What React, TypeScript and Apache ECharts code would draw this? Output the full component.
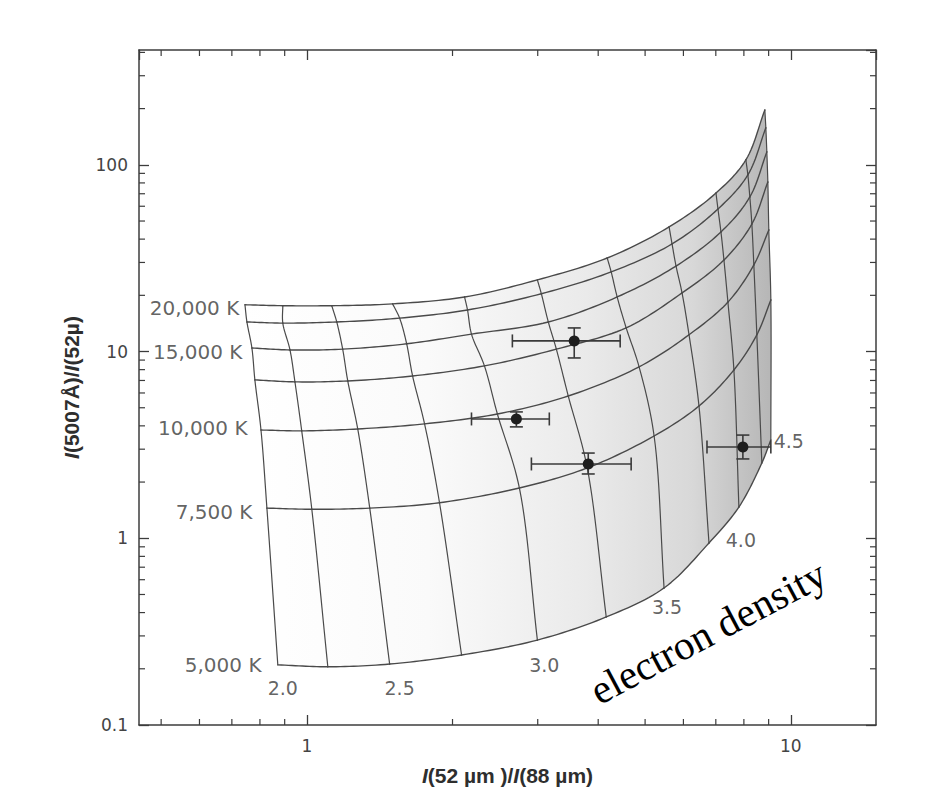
import React, { useEffect, useRef } from 'react';
import * as echarts from 'echarts';

// log10 electron density nodes of the grid
const densityNodes = [2.0, 2.25, 2.5, 2.75, 3.0, 3.25, 3.5, 3.75, 4.0, 4.25, 4.5];
const densityLabels = ['2.0', '2.5', '3.0', '3.5', '4.0', '4.5'];
const densityLabelX = [0.892, 1.555, 3.095, 5.55, 7.886, 9.906];
const densityLabelY = [0.158, 0.158, 0.21, 0.429, 0.98, 3.32];

// temperature curves: x = I(52µm)/I(88µm), y = I(5007Å)/I(52µm) at each density node
const t20000X = [0.745, 0.892, 1.126, 1.504, 2.118, 2.995, 4.175, 5.605, 7.005, 8.076, 8.839];
const t20000Y = [17.8, 17.6, 17.6, 18.0, 19.6, 24.2, 31.7, 46.5, 70.6, 106.3, 196.8];
const t17500X = [0.752, 0.892, 1.153, 1.555, 2.148, 3.052, 4.255, 5.684, 7.072, 8.153, 8.881];
const t17500Y = [14.4, 14.2, 14.4, 15.1, 16.7, 20.4, 26.7, 37.7, 58.0, 88.3, 157.8];
const t15000X = [0.77, 0.923, 1.186, 1.608, 2.189, 3.155, 4.378, 5.793, 7.173, 8.23, 8.923];
const t15000Y = [10.45, 10.2, 10.3, 11.0, 12.4, 14.4, 19.6, 28.7, 43.7, 67.3, 117.3];
const t12500X = [0.781, 0.945, 1.215, 1.654, 2.328, 3.278, 4.569, 5.961, 7.276, 8.309, 8.966];
const t12500Y = [7.05, 6.88, 6.96, 7.4, 8.38, 10.3, 13.4, 20.6, 30.9, 48.2, 80.9];
const t10000X = [0.804, 0.976, 1.274, 1.751, 2.476, 3.469, 4.859, 6.162, 7.415, 8.388, 9.008];
const t10000Y = [3.8, 3.76, 3.85, 4.1, 4.63, 5.78, 8.28, 12.3, 18.4, 29.1, 44.8];
const t7500X = [0.827, 1.024, 1.349, 1.88, 2.749, 3.797, 5.219, 6.461, 7.629, 8.509, 9.095];
const t7500Y = [1.45, 1.43, 1.45, 1.55, 1.86, 2.38, 3.53, 5.11, 7.97, 12.3, 18.9];
const t5000X = [0.871, 1.105, 1.483, 2.088, 2.995, 4.156, 5.472, 6.776, 7.812, 8.713, 9.095];
const t5000Y = [0.21, 0.205, 0.212, 0.237, 0.285, 0.379, 0.542, 0.944, 1.47, 2.53, 3.36];

const temperatureNames = ['20,000 K', '17,500 K', '15,000 K', '12,500 K', '10,000 K', '7,500 K', '5,000 K'];
const tempLabels = ['20,000 K', '15,000 K', '10,000 K', '7,500 K', '5,000 K'];
const tempLabelX = [0.727, 0.738, 0.756, 0.774, 0.808];
const tempLabelY = [17.1, 9.95, 3.9, 1.383, 0.21];

// observed points with error bars
const obsX = [3.569, 2.71, 3.815, 7.962];
const obsY = [11.4, 4.355, 2.5, 3.08];
const obsXLow = [2.659, 2.189, 2.911, 6.712];
const obsXHigh = [4.441, 3.17, 4.679, 9.095];
const obsYLow = [9.24, 3.95, 2.21, 2.66];
const obsYHigh = [13.38, 4.75, 2.86, 3.57];

// axes
const xMin = 0.45;
const xMax = 15;
const yMin = 0.1;
const yMax = 412;
const xMinorTicks = [0.5, 0.6, 0.7, 0.8, 0.9, 2, 3, 4, 5, 6, 7, 8, 9];
const yMinorTicks = [0.2, 0.3, 0.4, 0.5, 0.6, 0.7, 0.8, 0.9, 2, 3, 4, 5, 6, 7, 8, 9, 20, 30, 40, 50, 60, 70, 80, 90, 200, 300, 400];

const curves = [
  { x: t20000X, y: t20000Y },
  { x: t17500X, y: t17500Y },
  { x: t15000X, y: t15000Y },
  { x: t12500X, y: t12500Y },
  { x: t10000X, y: t10000Y },
  { x: t7500X, y: t7500Y },
  { x: t5000X, y: t5000Y },
];

const LINE = '#4a4a4a';
const SANS = 'DejaVu Sans';

// centripetal Catmull-Rom segment between p1 and p2 (pixel space)
function crSegment(p0: number[], p1: number[], p2: number[], p3: number[], steps: number): number[][] {
  const d = (a: number[], b: number[]) => Math.max(Math.pow(Math.hypot(b[0] - a[0], b[1] - a[1]), 0.5), 1e-4);
  const t0 = 0;
  const t1 = t0 + d(p0, p1);
  const t2 = t1 + d(p1, p2);
  const t3 = t2 + d(p2, p3);
  const lerp = (a: number[], b: number[], ta: number, tb: number, t: number) => {
    const wa = (tb - t) / (tb - ta);
    const wb = (t - ta) / (tb - ta);
    return [a[0] * wa + b[0] * wb, a[1] * wa + b[1] * wb];
  };
  const out: number[][] = [];
  for (let s = 0; s <= steps; s++) {
    const t = t1 + ((t2 - t1) * s) / steps;
    const A1 = lerp(p0, p1, t0, t1, t);
    const A2 = lerp(p1, p2, t1, t2, t);
    const A3 = lerp(p2, p3, t2, t3, t);
    const B1 = lerp(A1, A2, t0, t2, t);
    const B2 = lerp(A2, A3, t1, t3, t);
    out.push(lerp(B1, B2, t1, t2, t));
  }
  return out;
}

function neighbours(px: number[][], i: number) {
  const m = px.length;
  const p1 = px[i];
  const p2 = px[i + 1];
  const p0 = i > 0 ? px[i - 1] : [2 * p1[0] - p2[0], 2 * p1[1] - p2[1]];
  const p3 = i + 2 < m ? px[i + 2] : [2 * p2[0] - p1[0], 2 * p2[1] - p1[1]];
  return [p0, p1, p2, p3];
}

function splinePx(px: number[][], steps: number): number[][] {
  const out: number[][] = [];
  for (let i = 0; i < px.length - 1; i++) {
    const [a, b, c, e] = neighbours(px, i);
    const seg = crSegment(a, b, c, e, steps);
    if (i > 0) seg.shift();
    out.push(...seg);
  }
  return out;
}

function curveSeries(points: number[][], name: string, width: number) {
  return {
    type: 'custom',
    name,
    silent: true,
    z: 3,
    data: points,
    renderItem: (params: any, api: any) => {
      const i = params.dataIndex;
      if (i >= points.length - 1) return null;
      const px = points.map((p) => api.coord(p));
      const [a, b, c, e] = neighbours(px, i);
      return {
        type: 'polyline',
        shape: { points: crSegment(a, b, c, e, 14) },
        style: { stroke: LINE, lineWidth: width, fill: 'none', lineJoin: 'round', lineCap: 'round' },
      };
    },
  };
}

function isPow10(v: number) {
  const l = Math.log10(v);
  return Math.abs(l - Math.round(l)) < 1e-6;
}

const titleStyle = {
  color: '#2e2e2e',
  fontSize: 21,
  fontWeight: 'bold',
  fontFamily: 'Liberation Sans',
  rich: { i: { fontStyle: 'italic', fontWeight: 'bold', fontSize: 21, color: '#2e2e2e', fontFamily: 'Liberation Sans' } },
};

export default function App() {
  const ref = useRef<HTMLDivElement>(null);
  useEffect(() => {
    if (!ref.current) return;
    const chart = echarts.init(ref.current, undefined, { renderer: 'svg' });
    const n = densityNodes.length;
    const last = curves.length - 1;

    const tempSeries = curves.map((c, i) =>
      curveSeries(c.x.map((x, j) => [x, c.y[j]]), temperatureNames[i], 1.4)
    );
    const densSeries = densityNodes.map((d, j) =>
      curveSeries(curves.map((c) => [c.x[j], c.y[j]]), 'log ne ' + d, 1.2)
    );

    const option: any = {
      animation: false,
      backgroundColor: '#ffffff',
      grid: { left: 139, right: 68, top: 50, bottom: 84 },
      xAxis: [
        {
          type: 'log',
          logBase: 10,
          min: xMin,
          max: xMax,
          position: 'bottom',
          axisLine: { lineStyle: { color: '#3c3c3c', width: 1.5 } },
          axisTick: { inside: true, length: 10, lineStyle: { color: '#3c3c3c', width: 1.3 } },
          axisLabel: {
            margin: 12,
            color: '#444',
            fontSize: 17,
            fontFamily: SANS,
            showMinLabel: false,
            showMaxLabel: false,
            formatter: (v: number) => (isPow10(v) ? String(Math.round(v * 1000) / 1000) : ''),
          },
          splitLine: { show: false },
          name: '{i|I}(52 µm )/{i|I}(88 µm)',
          nameLocation: 'middle',
          nameGap: 40,
          nameTextStyle: titleStyle,
        },
        {
          type: 'log',
          logBase: 10,
          min: xMin,
          max: xMax,
          position: 'top',
          axisLine: { lineStyle: { color: '#3c3c3c', width: 1.5 } },
          axisTick: { inside: true, length: 10, lineStyle: { color: '#3c3c3c', width: 1.3 } },
          axisLabel: { show: false },
          splitLine: { show: false },
        },
      ],
      yAxis: [
        {
          type: 'log',
          logBase: 10,
          min: yMin,
          max: yMax,
          position: 'left',
          axisLine: { lineStyle: { color: '#3c3c3c', width: 1.5 } },
          axisTick: { inside: true, length: 10, lineStyle: { color: '#3c3c3c', width: 1.3 } },
          axisLabel: {
            margin: 11,
            color: '#444',
            fontSize: 17,
            fontFamily: SANS,
            showMaxLabel: false,
            formatter: (v: number) => (isPow10(v) ? String(Math.round(v * 1000) / 1000) : ''),
          },
          splitLine: { show: false },
          name: '{i|I}(5007Å)/{i|I}(52µ)',
          nameLocation: 'middle',
          nameGap: 57,
          nameRotate: 90,
          nameTextStyle: titleStyle,
        },
        {
          type: 'log',
          logBase: 10,
          min: yMin,
          max: yMax,
          position: 'right',
          axisLine: { lineStyle: { color: '#3c3c3c', width: 1.5 } },
          axisTick: { inside: true, length: 10, lineStyle: { color: '#3c3c3c', width: 1.3 } },
          axisLabel: { show: false },
          splitLine: { show: false },
        },
      ],
      graphic: [
        {
          type: 'text',
          x: 708,
          y: 632,
          rotation: (28 * Math.PI) / 180,
          silent: true,
          style: {
            text: 'electron density',
            fontSize: 41,
            fontFamily: 'Liberation Serif',
            fill: '#000',
            align: 'center',
            verticalAlign: 'middle',
          },
        },
      ],
      series: [
        {
          type: 'custom',
          name: 'shading',
          silent: true,
          z: 1,
          data: [[1, 1]],
          renderItem: (params: any, api: any) => {
            const left = curves.map((c) => [c.x[0], c.y[0]]).reverse();
            const top = curves[0].x.map((x, j) => [x, curves[0].y[j]]);
            const right = curves.map((c) => [c.x[n - 1], c.y[n - 1]]);
            const bottom = curves[last].x.map((x, j) => [x, curves[last].y[j]]).reverse();
            const toPx = (arr: number[][]) => arr.map((p) => api.coord(p));
            const pts = [
              ...splinePx(toPx(left), 10),
              ...splinePx(toPx(top), 10),
              ...splinePx(toPx(right), 10),
              ...splinePx(toPx(bottom), 10),
            ];
            return {
              type: 'polygon',
              shape: { points: pts },
              style: {
                fill: new echarts.graphic.LinearGradient(0, 0, 1, 0, [
                  { offset: 0, color: '#ffffff' },
                  { offset: 0.35, color: '#fafafa' },
                  { offset: 0.65, color: '#eaeaea' },
                  { offset: 0.85, color: '#d8d8d8' },
                  { offset: 1, color: '#b6b6b6' },
                ]),
                stroke: 'none',
              },
            };
          },
        },
        ...tempSeries,
        ...densSeries,
        {
          type: 'custom',
          name: 'observations',
          silent: true,
          z: 5,
          data: obsX.map((x, i) => [x, obsY[i], obsXLow[i], obsXHigh[i], obsYLow[i], obsYHigh[i]]),
          encode: { x: 0, y: 1 },
          renderItem: (params: any, api: any) => {
            const x = api.value(0);
            const y = api.value(1);
            const c = api.coord([x, y]);
            const xl = api.coord([api.value(2), y]);
            const xh = api.coord([api.value(3), y]);
            const yl = api.coord([x, api.value(4)]);
            const yh = api.coord([x, api.value(5)]);
            const cap = 6.5;
            const st = { stroke: '#3a3a3a', lineWidth: 1.6 };
            return {
              type: 'group',
              children: [
                { type: 'line', shape: { x1: xl[0], y1: c[1], x2: xh[0], y2: c[1] }, style: st },
                { type: 'line', shape: { x1: xl[0], y1: c[1] - cap, x2: xl[0], y2: c[1] + cap }, style: st },
                { type: 'line', shape: { x1: xh[0], y1: c[1] - cap, x2: xh[0], y2: c[1] + cap }, style: st },
                { type: 'line', shape: { x1: c[0], y1: yl[1], x2: c[0], y2: yh[1] }, style: st },
                { type: 'line', shape: { x1: c[0] - cap, y1: yl[1], x2: c[0] + cap, y2: yl[1] }, style: st },
                { type: 'line', shape: { x1: c[0] - cap, y1: yh[1], x2: c[0] + cap, y2: yh[1] }, style: st },
                { type: 'circle', shape: { cx: c[0], cy: c[1], r: 5.5 }, style: { fill: '#1e1e1e', stroke: 'none' } },
              ],
            };
          },
        },
        {
          type: 'scatter',
          name: 'temperature labels',
          silent: true,
          symbolSize: 1,
          itemStyle: { color: 'transparent' },
          data: tempLabelX.map((x, i) => ({ value: [x, tempLabelY[i]], label: { formatter: tempLabels[i] } })),
          label: { show: true, position: 'left', distance: 0, fontSize: 20, color: '#3a3a3a', fontFamily: SANS },
          z: 6,
        },
        {
          type: 'scatter',
          name: 'density labels',
          silent: true,
          symbolSize: 1,
          itemStyle: { color: 'transparent' },
          data: densityLabelX.map((x, i) => ({ value: [x, densityLabelY[i]], label: { formatter: densityLabels[i] } })),
          label: { show: true, position: 'inside', fontSize: 19, color: '#3a3a3a', fontFamily: SANS },
          z: 6,
        },
        {
          type: 'custom',
          name: 'x minor ticks',
          silent: true,
          z: 4,
          data: xMinorTicks.map((v) => [v, 1]),
          renderItem: (params: any, api: any) => {
            const p = api.coord([api.value(0), 1]);
            const cs = params.coordSys;
            const st = { stroke: '#3c3c3c', lineWidth: 1.2 };
            const b = cs.y + cs.height;
            return {
              type: 'group',
              children: [
                { type: 'line', shape: { x1: p[0], y1: b, x2: p[0], y2: b - 6 }, style: st },
                { type: 'line', shape: { x1: p[0], y1: cs.y, x2: p[0], y2: cs.y + 6 }, style: st },
              ],
            };
          },
        },
        {
          type: 'custom',
          name: 'y minor ticks',
          silent: true,
          z: 4,
          data: yMinorTicks.map((v) => [1, v]),
          renderItem: (params: any, api: any) => {
            const p = api.coord([1, api.value(1)]);
            const cs = params.coordSys;
            const st = { stroke: '#3c3c3c', lineWidth: 1.2 };
            const r = cs.x + cs.width;
            return {
              type: 'group',
              children: [
                { type: 'line', shape: { x1: cs.x, y1: p[1], x2: cs.x + 6, y2: p[1] }, style: st },
                { type: 'line', shape: { x1: r, y1: p[1], x2: r - 6, y2: p[1] }, style: st },
              ],
            };
          },
        },
      ],
    };
    chart.setOption(option);
    return () => chart.dispose();
  }, []);
  return (
    <div
      ref={ref}
      style={{ position: 'absolute', left: 0, top: 0, width: 944, height: 809, background: '#fff' }}
    />
  );
}
